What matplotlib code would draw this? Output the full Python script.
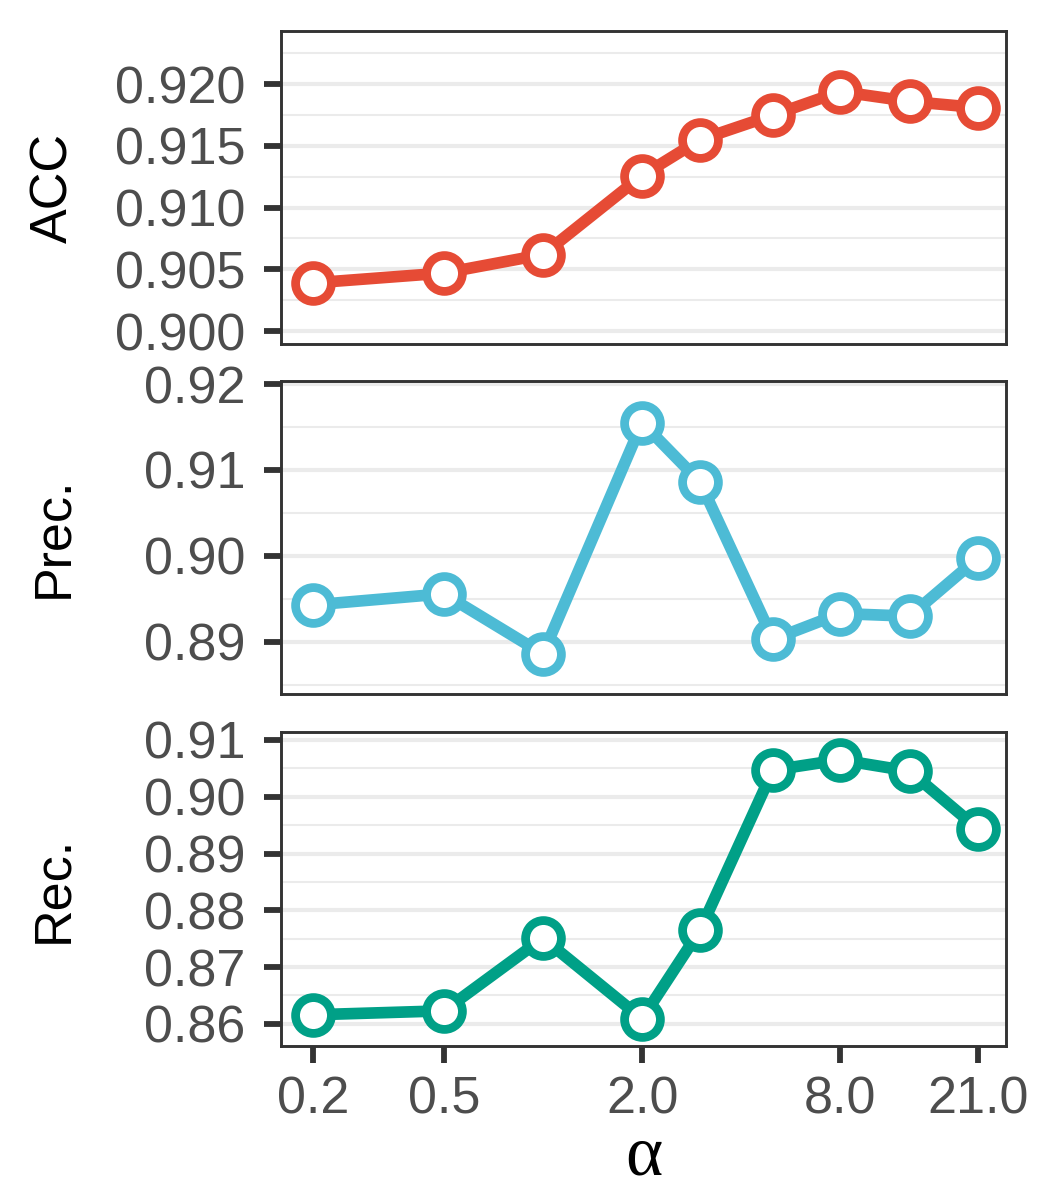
import matplotlib
matplotlib.use("Agg")
import matplotlib.pyplot as plt
import numpy as np
from matplotlib.ticker import MultipleLocator, FixedLocator, FixedFormatter, NullLocator, FuncFormatter

plt.rcParams['font.family'] = ['Liberation Sans', 'DejaVu Sans']

# データ
alpha = [0.2, 0.5, 1.0, 2.0, 3.0, 5.0, 8.0, 13.0, 21.0]
xticks = [0.2, 0.5, 2.0, 8.0, 21.0]
xticklabels = ["0.2", "0.5", "2.0", "8.0", "21.0"]

acc = [0.9039, 0.9047, 0.9062, 0.9126, 0.9155, 0.9175, 0.9194, 0.9186, 0.9181]
prec = [0.8943, 0.8956, 0.8886, 0.9155, 0.9086, 0.8903, 0.8933, 0.8930, 0.8998]
rec = [0.8616, 0.8623, 0.8751, 0.8609, 0.8765, 0.9047, 0.9065, 0.9045, 0.8943]

names = ["ACC", "Prec.", "Rec."]
colors = ["#E64B35", "#4DBBD5", "#00A087"]

# パネルごとの設定 (位置, y範囲, 目盛間隔, 書式)
panels = [
    (acc, [0.2676, 0.7133, 0.6905, 0.2608], (0.89895, 0.9243), 0.005, "{:.3f}"),
    (prec, [0.2676, 0.4217, 0.6905, 0.2608], (0.88395, 0.92035), 0.01, "{:.2f}"),
    (rec, [0.2676, 0.1283, 0.6905, 0.2617], (0.8561, 0.9114), 0.01, "{:.2f}"),
]

fig = plt.figure(figsize=(3.5, 4), dpi=300)

for i, (vals, pos, ylim, step, fmt) in enumerate(panels):
    ax = fig.add_axes(pos)
    ax.set_xscale("log")
    ax.set_xlim(0.16, 25.5)
    ax.set_ylim(*ylim)
    ax.plot(alpha, vals, color=colors[i], lw=2.8, marker="o", ms=8.6,
            mfc="white", mec=colors[i], mew=2.1, zorder=3, clip_on=False)

    # y目盛とグリッド
    ax.yaxis.set_major_locator(MultipleLocator(step))
    ax.yaxis.set_minor_locator(MultipleLocator(step / 2))
    ax.yaxis.set_major_formatter(FuncFormatter(lambda v, p, f=fmt: f.format(v)))
    ax.grid(axis="y", which="major", color="#EBEBEB", lw=1.0, zorder=0)
    ax.grid(axis="y", which="minor", color="#EBEBEB", lw=0.5, zorder=0)
    ax.grid(axis="x", which="both", visible=False)
    ax.set_axisbelow(True)

    ax.xaxis.set_major_locator(FixedLocator(xticks))
    ax.xaxis.set_minor_locator(NullLocator())
    if i == 2:
        ax.xaxis.set_major_formatter(FixedFormatter(xticklabels))
        ax.set_xlabel("α", fontsize=17, color="black", labelpad=0,
                      family=["Liberation Serif", "DejaVu Serif"])
    else:
        ax.tick_params(axis="x", which="both", bottom=False, labelbottom=False)

    ax.tick_params(axis="both", which="major", length=4, width=1.4, color="#333333",
                   labelsize=12.5, labelcolor="#4D4D4D", pad=3)
    ax.tick_params(axis="y", which="major", pad=4.5)
    ax.tick_params(axis="y", which="minor", left=False)
    for s in ax.spines.values():
        s.set_color("#333333")
        s.set_linewidth(0.7)

    ax.set_ylabel(names[i], fontsize=12.5, color="black")
    ax.yaxis.set_label_coords(-0.28, 0.5)

fig.savefig("out.png", dpi=300)
